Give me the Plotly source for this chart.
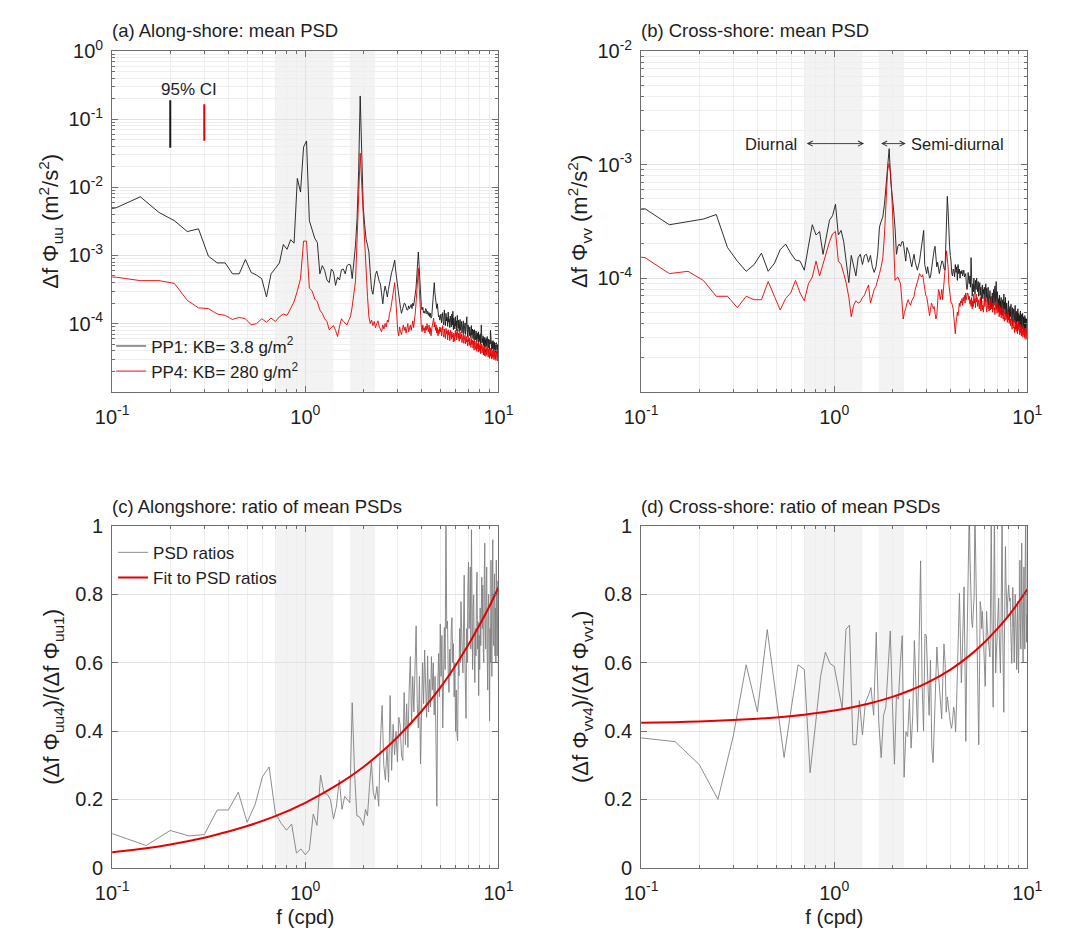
import numpy as np
import plotly.graph_objects as go

# ---------------- frequency grids ----------------
DF_PSD = 0.035      # cpd, spectral resolution of the mean PSDs (top panels)
DF_RATIO = 0.05     # cpd, resolution of the PSD ratios (bottom panels)
psd_bins = list(range(2, 287))
ratio_bins = list(range(2, 201))
f_psd = [DF_PSD * k for k in psd_bins]
f_ratio = [DF_RATIO * j for j in ratio_bins]

# ---------------- (a) along-shore mean PSD, log10(m^2/s^2) ----------------
pp1_uu_log10 = [
    -2.40, -2.30, -2.14, -2.37, -2.49, -2.65, -2.61, -3.01, -3.11,
    -3.11, -3.27, -3.27, -3.06, -3.25, -3.29, -3.34, -3.61, -3.27, -3.19,
    -3.11, -2.84, -2.91, -2.77, -2.82, -1.87, -2.07, -1.41, -1.32, -2.49,
    -2.62, -2.75, -2.81, -3.27, -3.15, -3.22, -3.36, -3.40, -3.20, -3.24,
    -3.44, -3.32, -3.36, -3.21, -3.20, -3.27, -3.15, -3.13, -3.14, -3.34,
    -3.10, -2.85, -2.45, -1.75, -0.66, -1.33, -2.28, -2.55, -2.76, -2.85,
    -2.95, -3.25, -3.50, -3.57, -3.40, -3.28, -3.23, -3.32, -3.38, -3.42,
    -3.60, -3.71, -3.55, -3.45, -3.52, -3.61, -3.50, -3.40, -3.32, -3.25,
    -3.20, -3.12, -3.07, -3.23, -3.35, -3.52, -3.60, -3.70, -3.78, -3.85,
    -3.78, -3.72, -3.70, -3.71, -3.77, -3.80, -3.80, -3.74, -3.78, -3.76,
    -3.72, -3.78, -3.70, -3.74, -3.66, -3.60, -3.48, -3.30, -3.10, -2.95,
    -3.15, -3.40, -3.62, -3.75, -3.80, -3.76, -3.84, -3.82, -3.85, -3.78,
    -3.80, -3.86, -3.82, -3.88, -3.84, -3.90, -3.85, -3.92, -3.90, -3.80,
    -3.65, -3.50, -3.40, -3.55, -3.62, -3.70, -3.78, -3.71, -3.85, -3.90,
    -3.88, -3.95, -3.92, -3.86, -3.99, -3.90, -3.84, -3.97, -4.02, -3.80,
    -3.93, -4.03, -3.85, -3.96, -3.91, -4.04, -3.83, -3.98, -3.93, -4.06,
    -3.89, -3.97, -4.05, -3.86, -4.02, -3.82, -4.09, -3.92, -3.99, -4.08,
    -3.90, -4.04, -3.96, -4.11, -3.88, -4.03, -4.07, -3.95, -4.12, -4.00,
    -3.94, -4.10, -4.05, -3.97, -4.14, -4.02, -4.08, -3.96, -4.15, -4.04,
    -4.10, -3.99, -4.16, -4.06, -4.01, -3.90, -4.09, -4.19, -4.02, -4.12,
    -4.07, -4.18, -4.05, -4.15, -4.11, -4.21, -4.03, -4.17, -4.12, -4.08,
    -4.22, -4.10, -4.16, -4.25, -4.09, -4.19, -4.13, -4.24, -4.11, -4.20,
    -4.27, -4.14, -4.18, -4.23, -4.12, -4.28, -4.17, -4.21, -4.26, -4.15,
    -4.30, -4.19, -4.02, -4.16, -4.29, -4.22, -4.27, -4.18, -4.32, -4.21,
    -4.26, -4.34, -4.20, -4.29, -4.24, -4.35, -4.22, -4.28, -4.33, -4.19,
    -4.30, -4.25, -4.36, -4.23, -4.31, -4.27, -4.38, -4.24, -4.30, -4.10,
    -4.22, -4.33, -4.28, -4.39, -4.26, -4.32, -4.37, -4.25, -4.34, -4.30,
    -4.41, -4.27, -4.33, -4.38, -4.29, -4.42, -4.31, -4.36, -4.28, -4.40,
    -4.34, -4.44, -4.30, -4.37, -4.33, -4.40,
]
pp4_uu_log10 = [
    -3.30, -3.32, -3.37, -3.37, -3.41, -3.66, -3.77, -3.78, -3.86,
    -3.88, -3.94, -3.91, -3.93, -4.02, -4.00, -3.93, -3.98, -3.92, -3.97,
    -3.90, -3.86, -3.88, -3.78, -3.68, -3.52, -3.34, -2.79, -2.79, -3.48,
    -3.52, -3.64, -3.68, -3.80, -3.85, -3.93, -3.97, -4.09, -4.06, -4.03,
    -4.10, -4.19, -4.04, -3.93, -3.97, -4.00, -4.02, -3.95, -3.90, -3.75,
    -3.55, -3.38, -2.76, -2.10, -1.50, -1.95, -2.40, -2.85, -3.25, -3.60,
    -3.90, -4.00, -3.95, -4.03, -3.97, -4.06, -4.00, -3.96, -4.05, -4.08,
    -4.12, -4.02, -4.08, -4.00, -4.05, -3.95, -3.98, -3.85, -3.80, -3.70,
    -3.60, -3.48, -3.40, -3.62, -3.95, -4.10, -4.18, -4.05, -4.12, -4.16,
    -4.08, -4.02, -4.10, -4.05, -4.14, -4.06, -4.00, -4.12, -4.08, -4.02,
    -4.10, -4.04, -3.96, -4.06, -3.98, -3.85, -3.70, -3.50, -3.30, -3.19,
    -3.45, -3.75, -3.98, -4.05, -4.12, -4.02, -4.10, -4.06, -4.14, -4.04,
    -4.10, -4.00, -4.08, -4.12, -4.02, -4.15, -4.06, -4.18, -4.08, -4.03,
    -3.95, -3.92, -4.05, -3.98, -4.10, -4.02, -4.14, -4.06, -4.18, -4.09,
    -4.15, -4.05, -4.12, -4.06, -4.18, -4.10, -4.03, -4.16, -4.20, -4.08,
    -4.14, -4.22, -4.07, -4.15, -4.11, -4.24, -4.09, -4.17, -4.13, -4.25,
    -4.10, -4.19, -4.23, -4.12, -4.20, -4.16, -4.27, -4.14, -4.21, -4.26,
    -4.10, -4.19, -4.13, -4.24, -4.08, -4.17, -4.22, -4.14, -4.26, -4.16,
    -4.12, -4.23, -4.19, -4.15, -4.28, -4.18, -4.23, -4.14, -4.29, -4.20,
    -4.25, -4.17, -4.30, -4.22, -4.19, -4.27, -4.24, -4.33, -4.18, -4.26,
    -4.23, -4.32, -4.21, -4.29, -4.25, -4.35, -4.22, -4.31, -4.27, -4.24,
    -4.36, -4.26, -4.30, -4.39, -4.25, -4.33, -4.28, -4.38, -4.26, -4.34,
    -4.41, -4.29, -4.32, -4.37, -4.27, -4.42, -4.31, -4.35, -4.40, -4.29,
    -4.44, -4.33, -4.37, -4.30, -4.43, -4.36, -4.41, -4.32, -4.46, -4.35,
    -4.39, -4.47, -4.34, -4.42, -4.38, -4.48, -4.36, -4.41, -4.46, -4.33,
    -4.43, -4.39, -4.49, -4.37, -4.44, -4.41, -4.51, -4.38, -4.43, -4.48,
    -4.36, -4.46, -4.42, -4.52, -4.40, -4.45, -4.50, -4.39, -4.47, -4.43,
    -4.53, -4.41, -4.46, -4.51, -4.42, -4.54, -4.44, -4.49, -4.41, -4.52,
    -4.47, -4.55, -4.43, -4.50, -4.46, -4.52,
]

# ---------------- (b) cross-shore mean PSD, log10(m^2/s^2) ----------------
pp1_vv_log10 = [
    -3.40, -3.39, -3.53, -3.50, -3.48, -3.44, -3.73, -3.85, -3.94,
    -3.88, -3.78, -3.94, -3.87, -3.75, -3.70, -3.78, -3.84, -3.85, -3.93,
    -3.72, -3.53, -3.62, -3.59, -3.79, -3.63, -3.49, -3.45, -3.35, -3.62,
    -3.58, -3.68, -3.85, -4.04, -3.80, -3.88, -3.98, -3.82, -3.79, -3.88,
    -3.80, -3.79, -3.86, -3.80, -3.90, -3.95, -3.90, -3.78, -3.55, -3.50,
    -3.46, -3.35, -3.18, -3.05, -2.86, -3.14, -3.25, -3.40, -3.56, -3.79,
    -3.72, -3.70, -3.72, -3.68, -3.68, -3.80, -3.85, -3.73, -3.76, -3.79,
    -3.85, -3.90, -3.84, -3.79, -3.86, -3.90, -3.93, -3.89, -3.85, -3.78,
    -3.72, -3.62, -3.58, -3.88, -3.92, -3.96, -3.90, -3.98, -4.00, -3.99,
    -3.92, -3.85, -3.78, -3.75, -3.72, -3.82, -3.90, -3.86, -3.92, -3.96,
    -3.92, -3.88, -3.85, -3.85, -3.90, -3.92, -3.93, -3.70, -3.45, -3.28,
    -3.40, -3.65, -3.72, -3.80, -3.85, -3.96, -3.98, -3.92, -3.94, -3.99,
    -3.88, -3.95, -3.90, -4.02, -3.88, -3.96, -3.92, -4.00, -3.94, -3.96,
    -3.93, -3.98, -3.94, -3.93, -3.99, -3.97, -3.96, -4.05, -4.10, -4.08,
    -3.95, -4.02, -4.05, -3.98, -4.08, -3.82, -4.04, -4.16, -4.05, -4.12,
    -4.00, -4.09, -4.14, -4.02, -4.10, -4.00, -4.06, -4.12, -4.03, -4.16,
    -4.08, -4.04, -4.15, -4.08, -4.22, -4.11, -4.06, -4.18, -4.10, -4.14,
    -4.08, -4.20, -4.12, -4.05, -4.17, -4.09, -4.21, -4.13, -4.08, -4.24,
    -4.15, -4.19, -4.11, -4.25, -4.16, -4.20, -4.27, -4.13, -4.22, -4.18,
    -4.10, -4.24, -4.16, -4.07, -4.21, -4.14, -4.03, -4.19, -4.25, -4.12,
    -4.22, -4.28, -4.18, -4.24, -4.15, -4.29, -4.20, -4.26, -4.17, -4.31,
    -4.22, -4.25, -4.19, -4.30, -4.23, -4.14, -4.27, -4.21, -4.32, -4.17,
    -4.26, -4.33, -4.22, -4.28, -4.35, -4.24, -4.30, -4.20, -4.33, -4.27,
    -4.36, -4.25, -4.29, -4.34, -4.23, -4.37, -4.28, -4.32, -4.26, -4.38,
    -4.30, -4.35, -4.27, -4.39, -4.31, -4.36, -4.24, -4.40, -4.33, -4.29,
    -4.41, -4.34, -4.30, -4.38, -4.27, -4.42, -4.35, -4.31, -4.40, -4.33,
    -4.43, -4.36, -4.29, -4.41, -4.37, -4.32, -4.44, -4.35, -4.39, -4.31,
    -4.45, -4.38, -4.34, -4.42, -4.36, -4.46, -4.33, -4.40, -4.44, -4.35,
    -4.47, -4.39, -4.36, -4.43, -4.40, -4.45,
]
pp4_vv_log10 = [
    -3.78, -3.82, -3.96, -3.94, -4.02, -4.16, -4.16, -4.26, -4.16,
    -4.19, -4.19, -4.03, -4.16, -4.28, -4.18, -4.13, -4.02, -4.13, -4.20,
    -4.05, -3.99, -3.85, -3.98, -3.87, -3.76, -3.68, -3.61, -3.59, -3.85,
    -3.88, -3.96, -4.05, -4.17, -4.34, -4.24, -4.20, -4.22, -4.21, -4.17,
    -4.15, -4.10, -4.06, -4.22, -4.15, -4.10, -4.07, -4.02, -3.96, -3.90,
    -3.82, -3.62, -3.30, -3.05, -2.99, -3.08, -3.34, -3.70, -4.02, -4.00,
    -3.99, -4.02, -4.05, -4.20, -4.36, -4.30, -4.27, -4.22, -4.19, -4.22,
    -4.24, -4.20, -4.18, -4.16, -4.10, -4.07, -4.05, -4.00, -3.96, -3.98,
    -3.99, -3.97, -4.05, -4.13, -4.15, -4.16, -4.22, -4.28, -4.33, -4.28,
    -4.22, -4.24, -4.27, -4.25, -4.30, -4.36, -4.33, -4.20, -4.10, -4.12,
    -4.19, -4.15, -4.10, -4.19, -4.08, -4.00, -3.96, -3.85, -3.76, -3.82,
    -3.90, -4.05, -4.10, -4.18, -4.22, -4.22, -4.25, -4.27, -4.35, -4.40,
    -4.49, -4.40, -4.33, -4.30, -4.33, -4.26, -4.22, -4.25, -4.20, -4.22,
    -4.18, -4.24, -4.17, -4.20, -4.15, -4.22, -4.13, -4.19, -4.16, -4.13,
    -4.14, -4.19, -4.16, -4.23, -4.19, -4.25, -4.17, -4.27, -4.20, -4.25,
    -4.14, -4.22, -4.18, -4.26, -4.14, -4.21, -4.17, -4.25, -4.22, -4.19,
    -4.27, -4.22, -4.17, -4.29, -4.23, -4.20, -4.28, -4.24, -4.30, -4.22,
    -4.17, -4.25, -4.20, -4.17, -4.24, -4.30, -4.22, -4.19, -4.27, -4.23,
    -4.29, -4.26, -4.20, -4.28, -4.24, -4.17, -4.26, -4.22, -4.30, -4.25,
    -4.21, -4.28, -4.26, -4.32, -4.24, -4.20, -4.28, -4.23, -4.31, -4.27,
    -4.22, -4.30, -4.26, -4.34, -4.29, -4.25, -4.32, -4.28, -4.35, -4.30,
    -4.26, -4.33, -4.29, -4.36, -4.27, -4.32, -4.38, -4.30, -4.34, -4.28,
    -4.37, -4.33, -4.35, -4.31, -4.39, -4.34, -4.30, -4.37, -4.33, -4.40,
    -4.35, -4.38, -4.36, -4.42, -4.37, -4.33, -4.40, -4.45, -4.38, -4.42,
    -4.36, -4.44, -4.39, -4.43, -4.48, -4.40, -4.37, -4.45, -4.41, -4.47,
    -4.39, -4.44, -4.42, -4.49, -4.40, -4.46, -4.43, -4.38, -4.47, -4.44,
    -4.50, -4.41, -4.45, -4.48, -4.42, -4.51, -4.46, -4.43, -4.49, -4.45,
    -4.52, -4.42, -4.47, -4.50, -4.44, -4.53, -4.48, -4.45, -4.51, -4.47,
    -4.54, -4.46, -4.50, -4.48, -4.53, -4.49,
]

# ---------------- (c) / (d) ratios of mean PSDs ----------------
ratio_uu = [
    0.100, 0.065, 0.109, 0.093, 0.097, 0.169, 0.169, 0.221, 0.133,
    0.185, 0.266, 0.295, 0.160, 0.130, 0.110, 0.128, 0.043, 0.055, 0.038,
    0.052, 0.157, 0.124, 0.271, 0.219, 0.214, 0.200, 0.143, 0.180, 0.257,
    0.171, 0.209, 0.200, 0.190, 0.483, 0.276, 0.152, 0.150, 0.140, 0.124,
    0.171, 0.152, 0.238, 0.309, 0.220, 0.200, 0.238, 0.180, 0.371, 0.475,
    0.300, 0.257, 0.352, 0.250, 0.504, 0.285, 0.420, 0.330, 0.399, 0.310,
    0.440, 0.418, 0.330, 0.314, 0.513, 0.360, 0.480, 0.352, 0.520, 0.618,
    0.420, 0.560, 0.456, 0.599, 0.708, 0.480, 0.409, 0.560, 0.304, 0.456,
    0.600, 0.480, 0.637, 0.532, 0.440, 0.620, 0.456, 0.551, 0.470, 0.618,
    0.520, 0.600, 0.447, 0.560, 0.400, 0.180, 0.520, 0.627, 0.500, 0.713,
    0.560, 0.680, 0.409, 0.600, 0.703, 0.580, 1.050, 0.700, 0.722, 0.560,
    0.513, 0.640, 0.561, 0.700, 0.732, 0.600, 0.656, 0.500, 0.600, 0.399,
    0.520, 0.390, 0.371, 0.600, 0.561, 0.700, 0.600, 0.779, 0.650, 0.620,
    0.570, 0.760, 0.856, 0.620, 0.560, 0.437, 0.700, 0.600, 0.820, 0.894,
    0.700, 0.751, 0.880, 0.640, 0.989, 0.720, 0.580, 0.760, 0.798, 0.620,
    0.542, 0.700, 0.620, 0.810, 0.865, 0.640, 0.720, 0.504, 0.680, 0.580,
    0.760, 0.650, 0.732, 0.850, 0.700, 0.827, 0.640, 0.600, 0.860, 0.950,
    0.700, 0.640, 0.820, 0.880, 0.620, 0.520, 0.750, 0.800, 0.620, 0.430,
    0.700, 0.600, 0.900, 0.700, 0.560, 0.820, 0.960, 0.680, 0.650, 0.800,
    0.860, 0.620, 0.760, 0.600, 0.900, 0.700, 0.620, 0.780, 0.840, 0.550,
]
ratio_vv = [
    0.380, 0.369, 0.302, 0.200, 0.385, 0.594, 0.456, 0.697, 0.500,
    0.323, 0.470, 0.594, 0.580, 0.278, 0.420, 0.560, 0.631, 0.598, 0.589,
    0.522, 0.465, 0.698, 0.710, 0.360, 0.360, 0.489, 0.389, 0.484, 0.503,
    0.527, 0.446, 0.689, 0.427, 0.322, 0.446, 0.470, 0.580, 0.693, 0.484,
    0.303, 0.503, 0.493, 0.600, 0.679, 0.265, 0.398, 0.384, 0.493, 0.350,
    0.446, 0.665, 0.500, 0.398, 0.650, 0.898, 0.541, 0.400, 0.684, 0.679,
    0.550, 0.446, 0.608, 0.350, 0.308, 0.450, 0.560, 0.646, 0.580, 0.522,
    0.480, 0.436, 0.550, 0.655, 0.600, 0.455, 0.500, 0.460, 0.446, 0.420,
    0.408, 0.430, 0.470, 0.455, 0.398, 0.480, 0.560, 0.700, 0.803, 0.650,
    0.541, 0.620, 0.720, 0.822, 0.600, 0.370, 0.600, 0.812, 0.900, 1.050,
    0.900, 0.760, 0.720, 0.703, 0.750, 0.798, 1.050, 0.900, 0.760, 0.600,
    0.450, 0.360, 0.560, 0.779, 0.760, 0.700, 0.750, 0.700, 0.646, 0.580,
    0.531, 0.640, 0.750, 0.700, 0.680, 0.665, 0.640, 0.617, 0.800, 1.050,
    0.750, 0.500, 0.470, 0.800, 1.050, 0.780, 0.570, 0.620, 0.660, 0.703,
    0.750, 0.789, 0.680, 0.600, 0.570, 0.700, 0.850, 1.050, 0.700, 0.520,
    0.455, 0.650, 0.820, 0.940, 0.840, 0.780, 0.731, 0.780, 0.800, 0.827,
    0.800, 0.780, 0.789, 0.700, 0.650, 0.598, 0.700, 0.820, 0.760, 0.680,
    0.600, 0.720, 0.800, 0.740, 0.660, 0.580, 0.700, 0.780, 0.620, 0.570,
    0.680, 0.800, 0.900, 0.720, 0.640, 0.760, 0.950, 0.780, 0.680, 0.600,
    0.780, 0.880, 0.720, 0.640, 0.900, 1.050, 0.800, 0.660, 0.740, 0.700,
]

# fitted curves (read at selected frequencies)
fit_f = [0.10, 0.15, 0.20, 0.30, 0.40, 0.50, 0.70, 1.0, 1.5, 2.0, 2.5, 3.0, 4.0, 5.0, 6.0, 7.0, 8.0, 9.0, 10.0]
fit_uu = [0.045, 0.057, 0.068, 0.088, 0.106, 0.122, 0.151, 0.190, 0.246, 0.295, 0.340, 0.382, 0.458, 0.527, 0.592, 0.653, 0.711, 0.766, 0.820]
fit_vv = [0.424, 0.426, 0.428, 0.432, 0.436, 0.440, 0.448, 0.460, 0.480, 0.500, 0.520, 0.540, 0.580, 0.620, 0.660, 0.700, 0.738, 0.777, 0.815]

# 95% confidence interval bars (panel a)
ci_f = [0.2, 0.3]
ci_low = [0.038, 0.048]
ci_high = [0.19, 0.165]

# tidal bands (cpd)
diurnal_band = [0.7, 1.4]
semidiurnal_band = [1.7, 2.3]

for name, arr, n in [("uu1", pp1_uu_log10, len(f_psd)), ("uu4", pp4_uu_log10, len(f_psd)),
                     ("vv1", pp1_vv_log10, len(f_psd)), ("vv4", pp4_vv_log10, len(f_psd)),
                     ("ru", ratio_uu, len(f_ratio)), ("rv", ratio_vv, len(f_ratio))]:
    assert len(arr) == n, (name, len(arr), n)

# ---------------- styling ----------------
W, H = 1088, 942
FONT = "Liberation Sans, Arial, Helvetica, sans-serif"
TXT = "#1e1e1e"
AX_COL = "#6e6e6e"
GRID = "#e2e2e2"
GRID_MIN = "#eeeeee"
BAND = "#f3f3f3"
BLACK = "#1a1a1a"
RED = "#e60000"
GRAY = "#808080"
TICK_FS = 20
TITLE_FS = 22

XDOM_L = [98 / W, 496 / W]
XDOM_R = [643 / W, 1041 / W]
YDOM_T = [1 - 388 / H, 1 - 38 / H]
YDOM_B = [1 - 877 / H, 1 - 526 / H]

def sup(p):
    return "10<sup>%d</sup>" % p

LOG_MINOR = dict(tickmode="linear", dtick="D1", ticks="inside", ticklen=3,
                 tickcolor=AX_COL, showgrid=True, gridcolor=GRID_MIN, gridwidth=1)

def xcfg(dom, anchor, title):
    return dict(
        type="log", range=[-1, 1], domain=dom, anchor=anchor,
        tickmode="array", tickvals=[0.1, 1, 10], ticktext=[sup(-1), sup(0), sup(1)],
        ticks="inside", ticklen=6, tickwidth=1, tickcolor=AX_COL, ticklabelstandoff=7,
        minor=LOG_MINOR,
        showgrid=True, gridcolor=GRID, gridwidth=1,
        showline=True, linecolor=AX_COL, linewidth=1, mirror="ticks",
        zeroline=False, tickfont=dict(size=TICK_FS, color=TXT, family=FONT),
        title=dict(text=title, font=dict(size=20.5, color=TXT, family=FONT), standoff=6),
    )

def ylogcfg(dom, anchor, lo, hi, title):
    majors = [10.0 ** p for p in range(lo + 1, hi + 1)]
    return dict(
        type="log", range=[lo, hi], domain=dom, anchor=anchor,
        tickmode="array", tickvals=majors, ticktext=[sup(p) for p in range(lo + 1, hi + 1)],
        ticks="inside", ticklen=6, tickwidth=1, tickcolor=AX_COL, ticklabelstandoff=4,
        minor=LOG_MINOR,
        showgrid=True, gridcolor=GRID, gridwidth=1,
        showline=True, linecolor=AX_COL, linewidth=1, mirror="ticks",
        zeroline=False, tickfont=dict(size=TICK_FS, color=TXT, family=FONT),
        title=dict(text=title, font=dict(size=TITLE_FS, color=TXT, family=FONT), standoff=3),
    )

def ylincfg(dom, anchor, title):
    return dict(
        type="linear", range=[0, 1], domain=dom, anchor=anchor,
        tickmode="array", tickvals=[0, 0.2, 0.4, 0.6, 0.8, 1],
        ticktext=["0", "0.2", "0.4", "0.6", "0.8", "1"],
        ticks="inside", ticklen=6, tickwidth=1, tickcolor=AX_COL, ticklabelstandoff=4,
        showgrid=True, gridcolor=GRID, gridwidth=1,
        showline=True, linecolor=AX_COL, linewidth=1, mirror="ticks",
        zeroline=False, tickfont=dict(size=TICK_FS, color=TXT, family=FONT),
        title=dict(text=title, font=dict(size=TITLE_FS, color=TXT, family=FONT), standoff=9),
    )

fig = go.Figure()

def line(x, y, xa, ya, color, width, name=None, legend=None, showlegend=False, shape="linear"):
    fig.add_trace(go.Scatter(
        x=x, y=y, xaxis=xa, yaxis=ya, mode="lines",
        line=dict(color=color, width=width, shape=shape),
        name=name, legend=legend, showlegend=showlegend, hoverinfo="skip"))

# (a)
line(f_psd, [10.0 ** v for v in pp1_uu_log10], "x", "y", BLACK, 0.9,
     name="PP1: KB= 3.8 g/m<sup>2</sup>", legend="legend", showlegend=True)
line(f_psd, [10.0 ** v for v in pp4_uu_log10], "x", "y", RED, 0.9,
     name="PP4: KB= 280 g/m<sup>2</sup>", legend="legend", showlegend=True)
line([ci_f[0], ci_f[0]], [ci_low[0], ci_high[0]], "x", "y", BLACK, 2)
line([ci_f[1], ci_f[1]], [ci_low[1], ci_high[1]], "x", "y", RED, 2)
# (b)
line(f_psd, [10.0 ** v for v in pp1_vv_log10], "x2", "y2", BLACK, 0.9)
line(f_psd, [10.0 ** v for v in pp4_vv_log10], "x2", "y2", RED, 0.9)
# (c)
line(f_ratio, ratio_uu, "x3", "y3", GRAY, 0.9, name="PSD ratios", legend="legend2", showlegend=True)
line(fit_f, fit_uu, "x3", "y3", RED, 2, name="Fit to PSD ratios", legend="legend2",
     showlegend=True, shape="spline")
# (d)
line(f_ratio, ratio_vv, "x4", "y4", GRAY, 0.9)
line(fit_f, fit_vv, "x4", "y4", RED, 2, shape="spline")

shapes = []
for xa, ya in [("x", "y"), ("x2", "y2"), ("x3", "y3"), ("x4", "y4")]:
    for band in (diurnal_band, semidiurnal_band):
        shapes.append(dict(type="rect", xref=xa, yref=ya + " domain", x0=band[0], x1=band[1],
                           y0=0, y1=1, fillcolor=BAND, line=dict(width=0), layer="below"))

def title_ann(text, x_px, y_px):
    return dict(text=text, xref="paper", yref="paper", x=x_px / W, y=1 - y_px / H,
                xanchor="left", yanchor="middle", showarrow=False,
                font=dict(size=18.5, color=TXT, family=FONT))

arrow_y = np.log10(1.53e-3)
annotations = [
    title_ann("(a) Along-shore: mean PSD", 96, 17),
    title_ann("(b) Cross-shore: mean PSD", 641, 17),
    title_ann("(c) Alongshore: ratio of mean PSDs", 96, 506),
    title_ann("(d) Cross-shore: ratio of mean PSDs", 641, 506),
    dict(text="95% CI", xref="x", yref="y", x=np.log10(0.25), y=np.log10(0.27),
         showarrow=False, font=dict(size=17, color=TXT, family=FONT)),
    dict(text="Diurnal", xref="x2", yref="y2", x=np.log10(0.655), y=arrow_y,
         xanchor="right", showarrow=False, font=dict(size=16.5, color=TXT, family=FONT)),
    dict(text="Semi-diurnal", xref="x2", yref="y2", x=np.log10(2.45), y=arrow_y,
         xanchor="left", showarrow=False, font=dict(size=16.5, color=TXT, family=FONT)),
]
for band in (diurnal_band, semidiurnal_band):
    annotations.append(dict(
        text="", xref="x2", yref="y2", axref="x2", ayref="y2",
        x=np.log10(band[1] * 1.02), y=arrow_y, ax=np.log10(band[0] * 1.01), ay=arrow_y,
        showarrow=True, arrowhead=5, arrowside="end+start", arrowsize=1.1,
        arrowwidth=0.9, arrowcolor="#333333", standoff=0, startstandoff=0))

fig.update_layout(
    width=W, height=H, margin=dict(l=0, r=0, t=0, b=0),
    paper_bgcolor="white", plot_bgcolor="white",
    font=dict(family=FONT, color=TXT),
    xaxis=xcfg(XDOM_L, "y", ""),
    yaxis=ylogcfg(YDOM_T, "x", -5, 0, "Δf Φ<sub>uu</sub> (m<sup>2</sup>/s<sup>2</sup>)"),
    xaxis2=xcfg(XDOM_R, "y2", ""),
    yaxis2=ylogcfg(YDOM_T, "x2", -5, -2, "Δf Φ<sub>vv</sub> (m<sup>2</sup>/s<sup>2</sup>)"),
    xaxis3=xcfg(XDOM_L, "y3", "f (cpd)"),
    yaxis3=ylincfg(YDOM_B, "x3", "(Δf Φ<sub>uu4</sub>)/(Δf Φ<sub>uu1</sub>)"),
    xaxis4=xcfg(XDOM_R, "y4", "f (cpd)"),
    yaxis4=ylincfg(YDOM_B, "x4", "(Δf Φ<sub>vv4</sub>)/(Δf Φ<sub>vv1</sub>)"),
    shapes=shapes,
    annotations=annotations,
    legend=dict(x=97 / W, y=1 - 323 / H, xanchor="left", yanchor="top",
                bgcolor="rgba(0,0,0,0)", borderwidth=0, itemwidth=30,
                font=dict(size=17, color=TXT, family=FONT), tracegroupgap=0),
    legend2=dict(x=99 / W, y=1 - 535 / H, xanchor="left", yanchor="top",
                 bgcolor="rgba(0,0,0,0)", borderwidth=0, itemwidth=30,
                 font=dict(size=17, color=TXT, family=FONT), tracegroupgap=0),
    showlegend=True,
)

fig.write_html(
    "out.html",
    post_script="document.body.style.margin='0px';document.body.style.padding='0px';"
                "document.documentElement.style.overflow='hidden';",
)
